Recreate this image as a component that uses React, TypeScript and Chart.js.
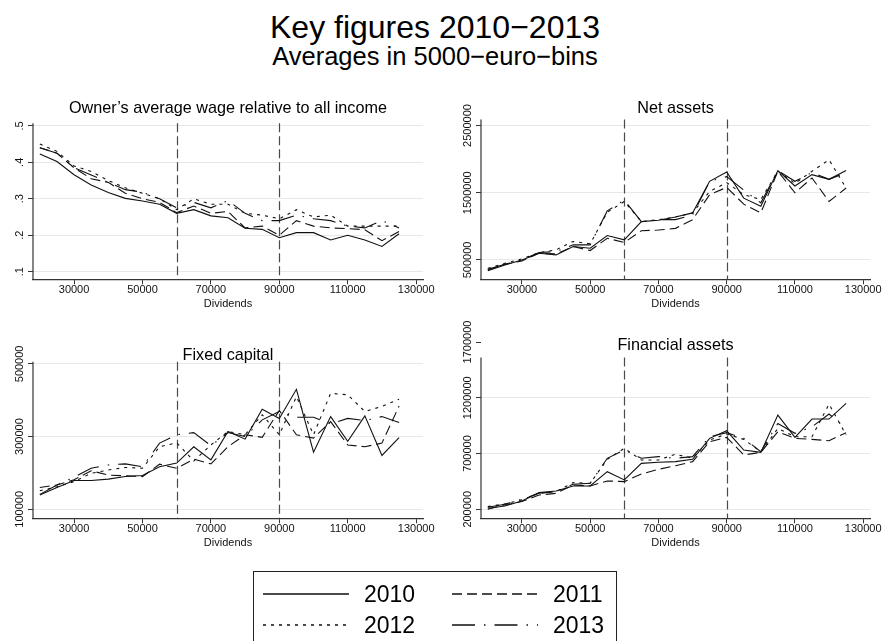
import React, { useEffect, useRef } from "react";
import { Chart, registerables } from "chart.js";
Chart.register(...registerables);

const FONT = "'Liberation Sans', Arial, Helvetica, sans-serif";

// ---------- data ----------
const dividends = [20000, 25000, 30000, 35000, 40000, 45000, 50000, 55000, 60000, 65000, 70000, 75000, 80000, 85000, 90000, 95000, 100000, 105000, 110000, 115000, 120000, 125000];
const xTicks = [30000, 50000, 70000, 90000, 110000, 130000];
const refLines = [60000, 90000];
const years = ["2010", "2011", "2012", "2013"];

const wage2010 = [0.423, 0.402, 0.366, 0.338, 0.317, 0.301, 0.294, 0.285, 0.26, 0.27, 0.253, 0.248, 0.219, 0.216, 0.193, 0.207, 0.207, 0.187, 0.2, 0.187, 0.169, 0.204];
const wage2011 = [0.44, 0.425, 0.385, 0.355, 0.345, 0.315, 0.3, 0.29, 0.262, 0.28, 0.26, 0.265, 0.22, 0.225, 0.2, 0.24, 0.225, 0.22, 0.218, 0.215, 0.185, 0.21];
const wage2012 = [0.45, 0.43, 0.39, 0.375, 0.35, 0.33, 0.315, 0.3, 0.27, 0.3, 0.285, 0.285, 0.26, 0.255, 0.245, 0.27, 0.25, 0.255, 0.225, 0.225, 0.225, 0.225];
const wage2013 = [0.44, 0.425, 0.385, 0.365, 0.345, 0.325, 0.318, 0.3, 0.275, 0.29, 0.275, 0.295, 0.26, 0.24, 0.24, 0.255, 0.245, 0.24, 0.225, 0.22, 0.24, 0.22];
const wageTicks = [0.1, 0.2, 0.3, 0.4, 0.5];

const net2010 = [340000, 425000, 500000, 600000, 575000, 700000, 675000, 863000, 800000, 1070000, 1090000, 1140000, 1200000, 1670000, 1810000, 1420000, 1300000, 1830000, 1600000, 1770000, 1700000, 1830000];
const net2011 = [350000, 435000, 485000, 600000, 590000, 700000, 640000, 823000, 760000, 935000, 945000, 970000, 1100000, 1470000, 1580000, 1330000, 1200000, 1820000, 1500000, 1720000, 1370000, 1570000];
const net2012 = [375000, 450000, 515000, 610000, 650000, 775000, 740000, 1210000, 1370000, 1070000, 1100000, 1140000, 1200000, 1520000, 1650000, 1470000, 1400000, 1820000, 1640000, 1820000, 1990000, 1570000];
const net2013 = [360000, 435000, 500000, 610000, 625000, 725000, 725000, 1230000, 1390000, 1070000, 1100000, 1100000, 1170000, 1670000, 1740000, 1540000, 1350000, 1830000, 1670000, 1800000, 1700000, 1800000];
const netTicks = [500000, 1500000, 2500000];

const fix2010 = [139000, 160000, 179000, 179000, 183000, 190000, 193000, 217000, 227000, 272000, 236000, 314000, 293000, 375000, 350000, 430000, 257000, 355000, 287000, 357000, 248000, 297000];
const fix2011 = [160000, 167000, 181000, 206000, 194000, 192000, 190000, 224000, 213000, 238000, 225000, 272000, 305000, 298000, 372000, 305000, 296000, 341000, 277000, 272000, 282000, 384000];
const fix2012 = [151000, 162000, 176000, 199000, 208000, 215000, 213000, 272000, 283000, 233000, 277000, 314000, 305000, 360000, 305000, 410000, 305000, 419000, 415000, 369000, 383000, 403000];
const fix2013 = [141000, 167000, 188000, 213000, 222000, 225000, 217000, 282000, 305000, 311000, 275000, 311000, 300000, 346000, 369000, 353000, 353000, 335000, 350000, 344000, 355000, 339000];
const fixTicks = [100000, 300000, 500000];

const fin2010 = [209000, 230000, 275000, 349000, 364000, 409000, 409000, 537000, 463000, 612000, 621000, 627000, 648000, 836000, 904000, 731000, 710000, 1045000, 845000, 1009000, 1009000, 1149000];
const fin2011 = [200000, 239000, 269000, 328000, 343000, 418000, 409000, 454000, 448000, 516000, 558000, 591000, 627000, 806000, 845000, 687000, 710000, 896000, 836000, 827000, 815000, 887000];
const fin2012 = [224000, 248000, 284000, 343000, 358000, 439000, 433000, 648000, 746000, 642000, 642000, 693000, 657000, 821000, 875000, 827000, 716000, 925000, 851000, 851000, 1143000, 866000];
const fin2013 = [218000, 245000, 290000, 343000, 358000, 424000, 433000, 657000, 731000, 657000, 672000, 657000, 672000, 851000, 887000, 836000, 716000, 970000, 881000, 940000, 1054000, 925000];
const finTicks = [200000, 700000, 1200000, 1700000];

// ---------- styles ----------
const dashes: number[][] = [[], [10, 5], [3, 5], [23, 9, 1.5, 9]];
const LINE = "#111";
const AXIS = "#333";
const GRID = "#e8e8e8";

type Box = { left: number; top: number; width: number; height: number };
type Plot = { left: number; right: number; top: number; bottom: number };
type PanelCfg = {
  title: string;
  series: number[][];
  yMin: number;
  yMax: number;
  yTicks: number[];
  axisTop: number;
  fmt: (v: number) => string;
  canvas: Box;
  plot: Plot;
  titleBaseline: number;
};

const fmtWage = (v: number) => String(Math.round(v * 10) / 10).replace(/^0/, "");
const fmtInt = (v: number) => String(Math.round(v));

const panels: PanelCfg[] = [
  {
    title: "Owner\u2019s average wage relative to all income",
    series: [wage2010, wage2011, wage2012, wage2013],
    yMin: 0.079, yMax: 0.507, yTicks: wageTicks, axisTop: 0.507, fmt: fmtWage,
    canvas: { left: 0, top: 95, width: 440, height: 214 },
    plot: { left: 33, right: 423, top: 123.3, bottom: 279.3 },
    titleBaseline: 112.3,
  },
  {
    title: "Net assets",
    series: [net2010, net2011, net2012, net2013],
    yMin: 212000, yMax: 2590000, yTicks: netTicks, axisTop: 2590000, fmt: fmtInt,
    canvas: { left: 440, top: 95, width: 443, height: 214 },
    plot: { left: 481, right: 870, top: 119.5, bottom: 279.3 },
    titleBaseline: 112.3,
  },
  {
    title: "Fixed capital",
    series: [fix2010, fix2011, fix2012, fix2013],
    yMin: 75200, yMax: 506000, yTicks: fixTicks, axisTop: 506000, fmt: fmtInt,
    canvas: { left: 0, top: 325, width: 440, height: 223 },
    plot: { left: 33, right: 423, top: 361.7, bottom: 518.3 },
    titleBaseline: 359.3,
  },
  {
    title: "Financial assets",
    series: [fin2010, fin2011, fin2012, fin2013],
    yMin: 119000, yMax: 1710000, yTicks: finTicks, axisTop: 1562000, fmt: fmtInt,
    canvas: { left: 440, top: 312, width: 443, height: 236 },
    plot: { left: 481, right: 870, top: 340.9, bottom: 518.3 },
    titleBaseline: 349.3,
  },
];

function Panel({ cfg }: { cfg: PanelCfg }) {
  const ref = useRef<HTMLCanvasElement>(null);
  useEffect(() => {
    const c = cfg;
    const xAxisH = c.canvas.top + c.canvas.height - c.plot.bottom;
    const yAxisW = c.plot.left - c.canvas.left;

    const refPlugin = {
      id: "refLines",
      beforeDatasetsDraw(chart: any) {
        const { ctx, chartArea, scales } = chart;
        const top = scales.y.getPixelForValue(c.axisTop);
        ctx.save();
        ctx.strokeStyle = "#4a4a4a";
        ctx.lineWidth = 1.2;
        ctx.setLineDash([9, 4]);
        refLines.forEach((v) => {
          const x = Math.round(scales.x.getPixelForValue(v)) + 0.5;
          ctx.beginPath();
          ctx.moveTo(x, top);
          ctx.lineTo(x, chartArea.bottom);
          ctx.stroke();
        });
        ctx.restore();
      },
    };

    const yPlugin = {
      id: "yAxisRot",
      afterDraw(chart: any) {
        const { ctx, chartArea, scales } = chart;
        const y = scales.y;
        const top = y.getPixelForValue(c.axisTop);
        ctx.save();
        ctx.strokeStyle = AXIS;
        ctx.lineWidth = 1.2;
        ctx.beginPath();
        ctx.moveTo(chartArea.left, top);
        ctx.lineTo(chartArea.left, chartArea.bottom + 0.6);
        ctx.stroke();
        ctx.fillStyle = "#111";
        ctx.font = `11px ${FONT}`;
        ctx.textAlign = "center";
        ctx.textBaseline = "middle";
        y.ticks.forEach((t: any) => {
          const p = y.getPixelForValue(t.value);
          ctx.save();
          ctx.translate(chartArea.left - 13, p);
          ctx.rotate(-Math.PI / 2);
          ctx.fillText(c.fmt(t.value), 0, 0);
          ctx.restore();
        });
        ctx.restore();
      },
    };

    const chart = new Chart(ref.current as HTMLCanvasElement, {
      type: "line",
      data: {
        datasets: c.series.map((s, i) => ({
          label: years[i],
          data: dividends.map((x, j) => ({ x, y: s[j] })),
          borderColor: LINE,
          borderWidth: 1.1,
          borderDash: dashes[i],
          pointRadius: 0,
          tension: 0,
          fill: false,
        })),
      },
      options: {
        responsive: false,
        animation: false,
        devicePixelRatio: 1,
        events: [],
        layout: {
          autoPadding: false,
          padding: {
            left: 0,
            top: c.plot.top - c.canvas.top,
            right: c.canvas.left + c.canvas.width - c.plot.right,
            bottom: 0,
          },
        },
        plugins: {
          legend: { display: false },
          tooltip: { enabled: false },
          title: { display: false },
        },
        scales: {
          x: {
            type: "linear",
            min: 18000,
            max: 132000,
            afterBuildTicks: (s: any) => {
              s.ticks = xTicks.map((v) => ({ value: v }));
            },
            afterFit: (s: any) => {
              s.height = xAxisH;
            },
            grid: {
              drawOnChartArea: false,
              drawTicks: true,
              tickLength: 5,
              tickColor: AXIS,
              tickWidth: 1,
            },
            border: { display: true, color: AXIS, width: 1.2 },
            ticks: {
              font: { family: FONT, size: 11, lineHeight: 1 },
              color: "#111",
              padding: 0,
              minRotation: 0,
              maxRotation: 0,
              autoSkip: false,
              callback: (v: any) => String(v),
            },
            title: {
              display: true,
              text: "Dividends",
              font: { family: FONT, size: 11, lineHeight: 1 },
              color: "#111",
              padding: 0,
            },
          },
          y: {
            type: "linear",
            min: c.yMin,
            max: c.yMax,
            afterBuildTicks: (s: any) => {
              s.ticks = c.yTicks.map((v) => ({ value: v }));
            },
            afterFit: (s: any) => {
              s.width = yAxisW;
            },
            grid: {
              color: (ctx: any) =>
                ctx.tick && ctx.tick.value > c.axisTop ? "rgba(0,0,0,0)" : GRID,
              lineWidth: 1,
              drawTicks: true,
              tickLength: 5,
              tickColor: AXIS,
              tickWidth: 1,
            },
            border: { display: false },
            ticks: { display: false },
          },
        },
      } as any,
      plugins: [refPlugin, yPlugin],
    });
    return () => chart.destroy();
  }, [cfg]);

  return (
    <canvas
      ref={ref}
      width={cfg.canvas.width}
      height={cfg.canvas.height}
      style={{
        position: "absolute",
        left: cfg.canvas.left,
        top: cfg.canvas.top,
        width: cfg.canvas.width,
        height: cfg.canvas.height,
      }}
    />
  );
}

function Text({ text, left, width, top, size }: { text: string; left: number; width: number; top: number; size: number }) {
  return (
    <div
      style={{
        position: "absolute",
        left,
        width,
        top,
        fontFamily: FONT,
        fontSize: size,
        lineHeight: `${size}px`,
        textAlign: "center",
        color: "#000",
        whiteSpace: "nowrap",
      }}
    >
      {text}
    </div>
  );
}

const legendRows = [
  { y: 594, items: [0, 1] },
  { y: 625, items: [2, 3] },
];
const legendCols = [
  { lineFrom: 263, lineTo: 349, textLeft: 364 },
  { lineFrom: 452, lineTo: 538, textLeft: 553 },
];

export default function App() {
  return (
    <div
      style={{
        position: "absolute",
        left: 0,
        top: 0,
        width: 883,
        height: 641,
        background: "#fff",
        overflow: "hidden",
      }}
    >
      {panels.map((p, i) => (
        <Panel key={i} cfg={p} />
      ))}
      <Text text={"Key figures 2010\u22122013"} left={0} width={870} top={11.2} size={32} />
      <Text text={"Averages in 5000\u2212euro\u2212bins"} left={0} width={870} top={44.1} size={25.5} />
      {panels.map((p, i) => (
        <Text
          key={"t" + i}
          text={p.title}
          left={p.plot.left}
          width={p.plot.right - p.plot.left}
          top={p.titleBaseline - 13.7}
          size={16.2}
        />
      ))}
      <div
        style={{
          position: "absolute",
          left: 253,
          top: 571,
          width: 364,
          height: 90,
          border: "1.5px solid #222",
          boxSizing: "border-box",
        }}
      />
      <svg
        width={883}
        height={641}
        style={{ position: "absolute", left: 0, top: 0 }}
      >
        {legendRows.map((r) =>
          r.items.map((idx, k) => (
            <line
              key={idx}
              x1={legendCols[k].lineFrom}
              x2={legendCols[k].lineTo}
              y1={r.y}
              y2={r.y}
              stroke="#111"
              strokeWidth={1.6}
              strokeDasharray={dashes[idx].length ? dashes[idx].join(" ") : undefined}
            />
          ))
        )}
      </svg>
      {legendRows.map((r) =>
        r.items.map((idx, k) => (
          <div
            key={"l" + idx}
            style={{
              position: "absolute",
              left: legendCols[k].textLeft,
              top: r.y - 11.3,
              fontFamily: FONT,
              fontSize: 23,
              lineHeight: "23px",
              color: "#000",
              whiteSpace: "nowrap",
            }}
          >
            {years[idx]}
          </div>
        ))
      )}
    </div>
  );
}
